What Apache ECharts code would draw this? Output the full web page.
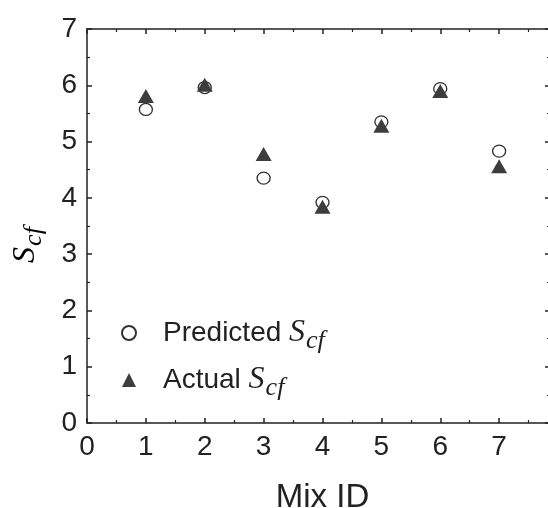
<!DOCTYPE html>
<html>
<head>
<meta charset="utf-8">
<script src="https://cdn.jsdelivr.net/npm/echarts@6/dist/echarts.min.js"></script>
<style>
html,body{margin:0;padding:0;background:#fff;}
#main{width:548px;height:508px;}
</style>
</head>
<body>
<div id="main"></div>
<script>
const mixIds = [1, 2, 3, 4, 5, 6, 7];
const predicted = [5.57, 5.96, 4.35, 3.92, 5.35, 5.94, 4.83];
const actual = [5.81, 6.01, 4.78, 3.84, 5.28, 5.90, 4.56];
const xTicks = [0, 1, 2, 3, 4, 5, 6, 7];
const yTicks = [0, 1, 2, 3, 4, 5, 6, 7];

const chart = echarts.init(document.getElementById('main'));
const sans = '"Liberation Sans", Arial, sans-serif';
const serif = '"Liberation Serif", "Times New Roman", serif';
const ink = '#222';

const richText = {
  n: { fontFamily: sans, fontSize: 28, color: ink },
  s: { fontFamily: serif, fontStyle: 'italic', fontSize: 32, color: ink },
  sub: { fontFamily: serif, fontStyle: 'italic', fontSize: 26, color: ink, padding: [16, 0, 0, 1] }
};

const axisBase = {
  axisLine: { show: true, onZero: false, lineStyle: { color: ink, width: 1.5 } },
  axisTick: { show: true, inside: true, length: 5, lineStyle: { color: ink, width: 1.5 } },
  minorTick: { show: true, splitNumber: 2, length: 3, lineStyle: { color: ink, width: 1.2 } },
  splitLine: { show: false }
};

chart.setOption({
  animation: false,
  grid: { left: 87, top: 29, right: -10, bottom: 85, containLabel: false, outerBoundsMode: 'none' },
  xAxis: [
    Object.assign({
      type: 'value', min: 0, max: 8, interval: 1, position: 'bottom',
      name: 'Mix ID', nameLocation: 'middle', nameGap: 58,
      nameTextStyle: { fontFamily: sans, fontSize: 33, color: ink },
      axisLabel: {
        fontFamily: sans, fontSize: 28, color: ink, margin: 10,
        formatter: v => (xTicks.indexOf(v) >= 0 ? String(v) : '')
      }
    }, axisBase),
    Object.assign({
      type: 'value', min: 0, max: 8, interval: 1, position: 'top',
      axisLabel: { show: false }
    }, axisBase)
  ],
  yAxis: [
    Object.assign({
      type: 'value', min: 0, max: 7, interval: 1, position: 'left',
      axisLabel: {
        fontFamily: sans, fontSize: 28, color: ink, margin: 10,
        formatter: v => (yTicks.indexOf(v) >= 0 ? String(v) : '')
      }
    }, axisBase),
    Object.assign({
      type: 'value', min: 0, max: 7, interval: 1, position: 'right', offset: -8,
      axisLabel: { show: false }
    }, axisBase)
  ],
  legend: {
    orient: 'vertical', left: 116, top: 312, itemGap: 10,
    itemWidth: 14, itemHeight: 14,
    data: ['Predicted', 'Actual'],
    formatter: name => '{n|' + name + ' }{s|S}{sub|cf}',
    textStyle: { padding: [0, 0, 0, 22], rich: richText }
  },
  graphic: [{
    type: 'text', x: 26, y: 245, rotation: Math.PI / 2,
    style: {
      text: '{s|S}{sub|cf}', align: 'center', verticalAlign: 'middle',
      rich: {
        s: { fontFamily: serif, fontStyle: 'italic', fontSize: 32, color: ink },
        sub: { fontFamily: serif, fontStyle: 'italic', fontSize: 26, color: ink, padding: [16, 0, 0, 1] }
      }
    }
  }],
  series: [
    {
      name: 'Predicted', type: 'scatter', symbol: 'circle', symbolSize: [13, 12],
      itemStyle: { color: '#fff', borderColor: '#333', borderWidth: 1.3, opacity: 1 },
      data: mixIds.map((m, i) => [m, predicted[i]]), z: 2
    },
    {
      name: 'Actual', type: 'scatter', symbol: 'triangle', symbolSize: [16, 14],
      itemStyle: { color: '#3d3d3d', opacity: 1 },
      data: mixIds.map((m, i) => [m, actual[i]]), z: 3
    }
  ]
});
</script>
</body>
</html>
